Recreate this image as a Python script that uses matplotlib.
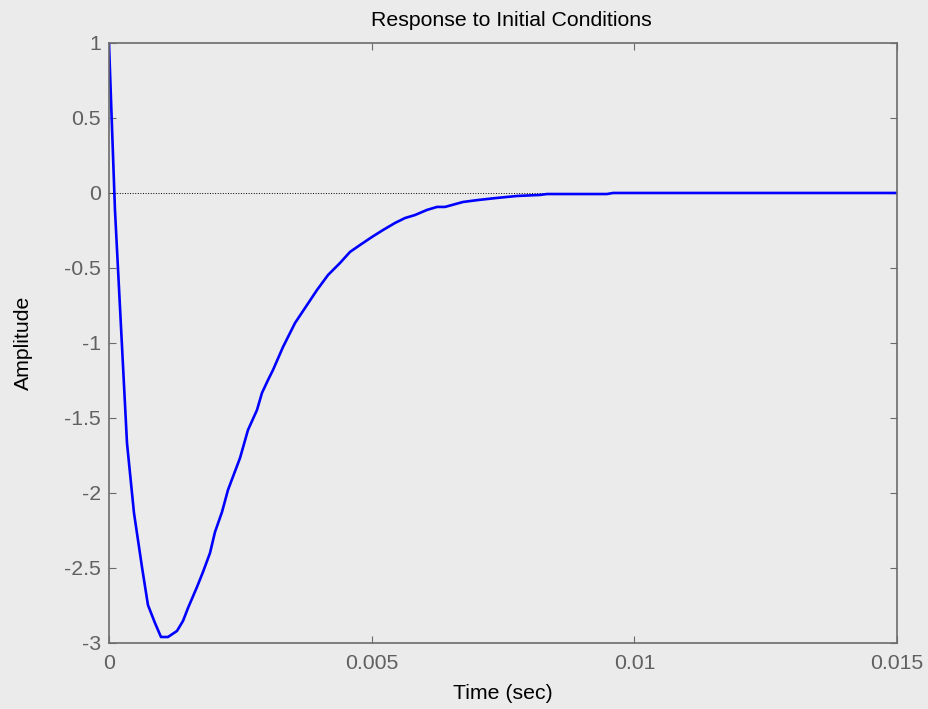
import numpy as np
import matplotlib
matplotlib.use('Agg')
import matplotlib.pyplot as plt

# time samples (sec) and response amplitude
t = [0.0, 0.000114, 0.000343, 0.000476, 0.000628, 0.000742, 0.000876, 0.000990,
     0.001123, 0.001294, 0.001409, 0.001504, 0.001675, 0.001789, 0.001923, 0.002018,
     0.002151, 0.002265, 0.002494, 0.002646, 0.002817, 0.002912, 0.003027, 0.003122,
     0.003312, 0.003541, 0.003769, 0.003959, 0.004169, 0.004397, 0.004588, 0.004778,
     0.005007, 0.005216, 0.005444, 0.005635, 0.005825, 0.006053, 0.006244, 0.006396,
     0.006739, 0.007024, 0.007386, 0.007767, 0.008204, 0.008338, 0.009480, 0.009594,
     0.015]
amp = [1.0, -0.113, -1.667, -2.133, -2.493, -2.747, -2.867, -2.96,
       -2.96, -2.92, -2.853, -2.767, -2.627, -2.527, -2.4, -2.26,
       -2.127, -1.98, -1.767, -1.58, -1.447, -1.333, -1.247, -1.18,
       -1.027, -0.867, -0.747, -0.647, -0.547, -0.467, -0.393, -0.347,
       -0.293, -0.247, -0.2, -0.167, -0.147, -0.113, -0.093, -0.093,
       -0.06, -0.047, -0.033, -0.02, -0.013, -0.007, -0.007, 0.0,
       0.0]

xticks = [0, 0.005, 0.01, 0.015]
xtick_labels = ['0', '0.005', '0.01', '0.015']
yticks = [-3, -2.5, -2, -1.5, -1, -0.5, 0, 0.5, 1]
ytick_labels = ['-3', '-2.5', '-2', '-1.5', '-1', '-0.5', '0', '0.5', '1']

bg = '#ebebeb'
gray = '#6b6b6b'
plt.rcParams['font.family'] = ['Liberation Sans', 'DejaVu Sans']

fig = plt.figure(figsize=(9.29, 7.09), dpi=100, facecolor=bg)
ax = fig.add_axes([0.1173, 0.0931, 0.8483, 0.8463], facecolor=bg)

ax.axhline(0, color='black', linestyle=':', linewidth=0.7)
ax.plot(t, amp, color='#0000ff', linewidth=1.9)

ax.set_xlim(0, 0.015)
ax.set_ylim(-3, 1)
ax.set_xticks(xticks)
ax.set_xticklabels(xtick_labels)
ax.set_yticks(yticks)
ax.set_yticklabels(ytick_labels)

for s in ax.spines.values():
    s.set_color(gray)
    s.set_linewidth(1.2)
ax.tick_params(direction='in', length=5, width=0.8, color=gray, labelcolor='#606060',
               labelsize=15.3, top=True, right=True)
ax.tick_params(axis='x', pad=8)
ax.tick_params(axis='y', pad=6)

ax.set_title('Response to Initial Conditions', fontsize=15.3, pad=12, x=0.51)
ax.set_xlabel('Time (sec)', fontsize=15.3, labelpad=8)
ax.set_ylabel('Amplitude', fontsize=15.3, labelpad=22)

fig.savefig('out.png', dpi=100, facecolor=bg)
